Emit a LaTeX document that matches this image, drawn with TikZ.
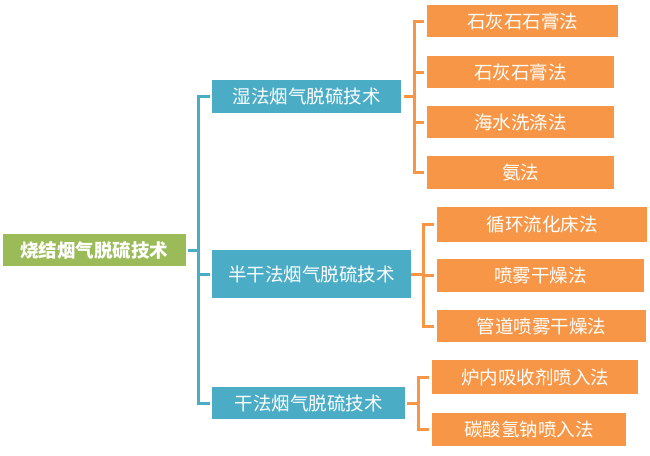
\documentclass[tikz,border=0pt]{standalone}
\usepackage{fontspec}
\newfontfamily\cjk{Noto Sans CJK SC}
\definecolor{rootgreen}{HTML}{9BBB59}
\definecolor{branchblue}{HTML}{4BACC6}
\definecolor{leaforange}{HTML}{F79646}
\tikzset{
  box/.style={inner sep=0pt, text=white, font=\cjk\fontsize{18.5}{20}\selectfont},
  rootbox/.style={box, fill=rootgreen, font=\cjk\bfseries\fontsize{18.5}{20}\selectfont},
  branchbox/.style={box, fill=branchblue},
  leafbox/.style={box, fill=leaforange},
  trunk/.style={draw=branchblue, line width=3pt},
  twig/.style={draw=leaforange, line width=3pt},
}
\begin{document}
\begin{tikzpicture}[x=1pt,y=-1pt]
      \useasboundingbox (0,0) rectangle (650,455);
      \draw
        (94,250) node[rootbox, minimum width=183pt, minimum height=32pt] (root){烧结烟气脱硫技术}
        (306.5,96.5) node[branchbox, minimum width=189pt, minimum height=33pt] (wet){湿法烟气脱硫技术}
        (311.5,274) node[branchbox, minimum width=199pt, minimum height=48pt] (semi){半干法烟气脱硫技术}
        (308.5,403) node[branchbox, minimum width=193pt, minimum height=32pt] (dry){干法烟气脱硫技术}
        (522.5,21) node[leafbox, minimum width=191pt, minimum height=32pt] (l1){石灰石石膏法}
        (520.5,72) node[leafbox, minimum width=187pt, minimum height=32pt] (l2){石灰石膏法}
        (520.5,122) node[leafbox, minimum width=187pt, minimum height=32pt] (l3){海水洗涤法}
        (520.5,172.5) node[leafbox, minimum width=187pt, minimum height=33pt] (l4){氨法}
        (542,224.5) node[leafbox, minimum width=210pt, minimum height=35pt] (l5){循环流化床法}
        (540.5,275.5) node[leafbox, minimum width=207pt, minimum height=33pt] (l6){喷雾干燥法}
        (541.5,326) node[leafbox, minimum width=209pt, minimum height=32pt] (l7){管道喷雾干燥法}
        (535,377) node[leafbox, minimum width=206pt, minimum height=34pt] (l8){炉内吸收剂喷入法}
        (529,429.5) node[leafbox, minimum width=194pt, minimum height=33pt] (l9){碳酸氢钠喷入法};
      \coordinate (rootj) at (198,250);
      \coordinate (wetj) at (414,96.5);
      \coordinate (semij) at (423,274);
      \coordinate (dryj) at (418,403);
      \begin{scope}[trunk]
        \draw[shorten <=2.5pt] (root.east) -- (rootj);
        \draw[shorten >=2pt] (rootj) |- (wet.west);
        \draw[shorten >=2pt] (rootj) |- (semi.west);
        \draw[shorten >=2pt] (rootj) |- (dry.west);
      \end{scope}
      \begin{scope}[twig, shorten >=3pt]
        \draw[shorten <=3pt, shorten >=0pt] (wet.east) -- (wetj);
        \draw (wetj) |- (l1.west);
        \draw (wetj) |- (l2.west);
        \draw (wetj) |- (l3.west);
        \draw (wetj) |- (l4.west);
        \draw[shorten <=0pt, shorten >=0pt] (semi.east) -- (semij);
        \draw (semij) |- (l5.west);
        \draw (semij) |- (l6.west);
        \draw (semij) |- (l7.west);
        \draw[shorten <=2pt, shorten >=0pt] (dry.east) -- (dryj);
        \draw (dryj) |- (l8.west);
        \draw (dryj) |- (l9.west);
      \end{scope}
    \end{tikzpicture}
\end{document}
